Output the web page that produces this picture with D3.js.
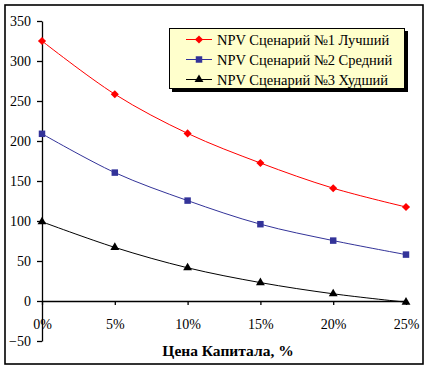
<!DOCTYPE html>
<html>
<head>
<meta charset="utf-8">
<script src="https://cdn.jsdelivr.net/npm/d3@7"></script>
<style>
  body { margin: 0; background: #fff; }
  svg { display: block; }
</style>
</head>
<body>
<div id="chart"></div>
<script>
var categories = ["0%", "5%", "10%", "15%", "20%", "25%"];
var best = [325, 258.5, 209.5, 172.5, 141, 117.5];
var middle = [209, 160.5, 125.5, 96, 75.5, 58];
var worst = [99, 67, 41.5, 23, 9, -1.5];
var yTicks = [-50, 0, 50, 100, 150, 200, 250, 300, 350];
var seriesNames = ["NPV Сценарий №1 Лучший", "NPV Сценарий №2 Средний", "NPV Сценарий №3 Худший"];

var width = 428,
	height = 370;
var serif = "'Liberation Serif', 'Times New Roman', serif";

var series = [
	{name: seriesNames[0], values: best, color: "#ff0000", symbol: d3.symbolDiamond2, size: 42},
	{name: seriesNames[1], values: middle, color: "#333399", symbol: d3.symbolSquare, size: 42},
	{name: seriesNames[2], values: worst, color: "#000000", symbol: d3.symbolTriangle, size: 34}
];

var svg = d3.select("#chart").append("svg")
	.attr("width", width)
	.attr("height", height);

// outer chart border
svg.append("rect")
	.attr("x", 5).attr("y", 5)
	.attr("width", 418).attr("height", 359)
	.attr("fill", "#fff")
	.attr("stroke", "#000")
	.attr("stroke-width", 1.6);

var xScale = d3.scalePoint()
	.domain(categories)
	.range([42, 406]);

var yScale = d3.scaleLinear()
	.domain([-50, 350])
	.range([341, 21]);

// y axis
var yAxis = svg.append("g")
	.attr("transform", "translate(42,0)")
	.call(d3.axisLeft(yScale).tickValues(yTicks).tickSize(5).tickSizeOuter(0).tickPadding(6));
yAxis.attr("font-family", serif).attr("font-size", 14);
yAxis.selectAll("text")
	.attr("fill", "#000");

// x axis at zero
var xAxis = svg.append("g")
	.attr("transform", "translate(0," + yScale(0) + ")")
	.call(d3.axisBottom(xScale).tickSize(4).tickSizeOuter(0));
xAxis.attr("font-family", serif).attr("font-size", 14);
xAxis.selectAll("text")
	.attr("fill", "#000")
	.attr("y", 18);
svg.selectAll(".domain, .tick line").attr("stroke", "#000").attr("stroke-width", 1.3);

// lines and markers
var line = d3.line()
	.x(function(d, i){ return xScale(categories[i]); })
	.y(function(d){ return yScale(d); })
	.curve(d3.curveCatmullRom.alpha(0.5));

series.forEach(function(s){
	svg.append("path")
		.attr("d", line(s.values))
		.attr("fill", "none")
		.attr("stroke", s.color)
		.attr("stroke-width", 1);
	svg.selectAll(null).data(s.values)
		.enter().append("path")
			.attr("d", d3.symbol().type(s.symbol).size(s.size))
			.attr("transform", function(d, i){
				return "translate(" + xScale(categories[i]) + "," + yScale(d) + ")";
			})
			.attr("fill", s.color);
});

// axis title
svg.append("text")
	.attr("x", 228).attr("y", 356)
	.attr("text-anchor", "middle")
	.attr("font-family", serif)
	.attr("font-size", 15.5)
	.attr("font-weight", "bold")
	.text("Цена Капитала, %");

// legend
var legend = svg.append("g");
legend.append("rect")
	.attr("x", 172).attr("y", 31)
	.attr("width", 236).attr("height", 61)
	.attr("fill", "#000");
legend.append("rect")
	.attr("x", 169.5).attr("y", 28.5)
	.attr("width", 235).attr("height", 60)
	.attr("fill", "#ffffcc")
	.attr("stroke", "#000")
	.attr("stroke-width", 1);

series.forEach(function(s, i){
	var y = 39.5 + i * 20;
	legend.append("line")
		.attr("x1", 186).attr("x2", 212)
		.attr("y1", y).attr("y2", y)
		.attr("stroke", s.color);
	legend.append("path")
		.attr("d", d3.symbol().type(s.symbol).size(s.size))
		.attr("transform", "translate(199," + y + ")")
		.attr("fill", s.color);
	legend.append("text")
		.attr("x", 217).attr("y", y)
		.attr("dy", "0.35em")
		.attr("font-family", serif)
		.attr("font-size", 14.5)
		.text(s.name);
});
</script>
</body>
</html>
